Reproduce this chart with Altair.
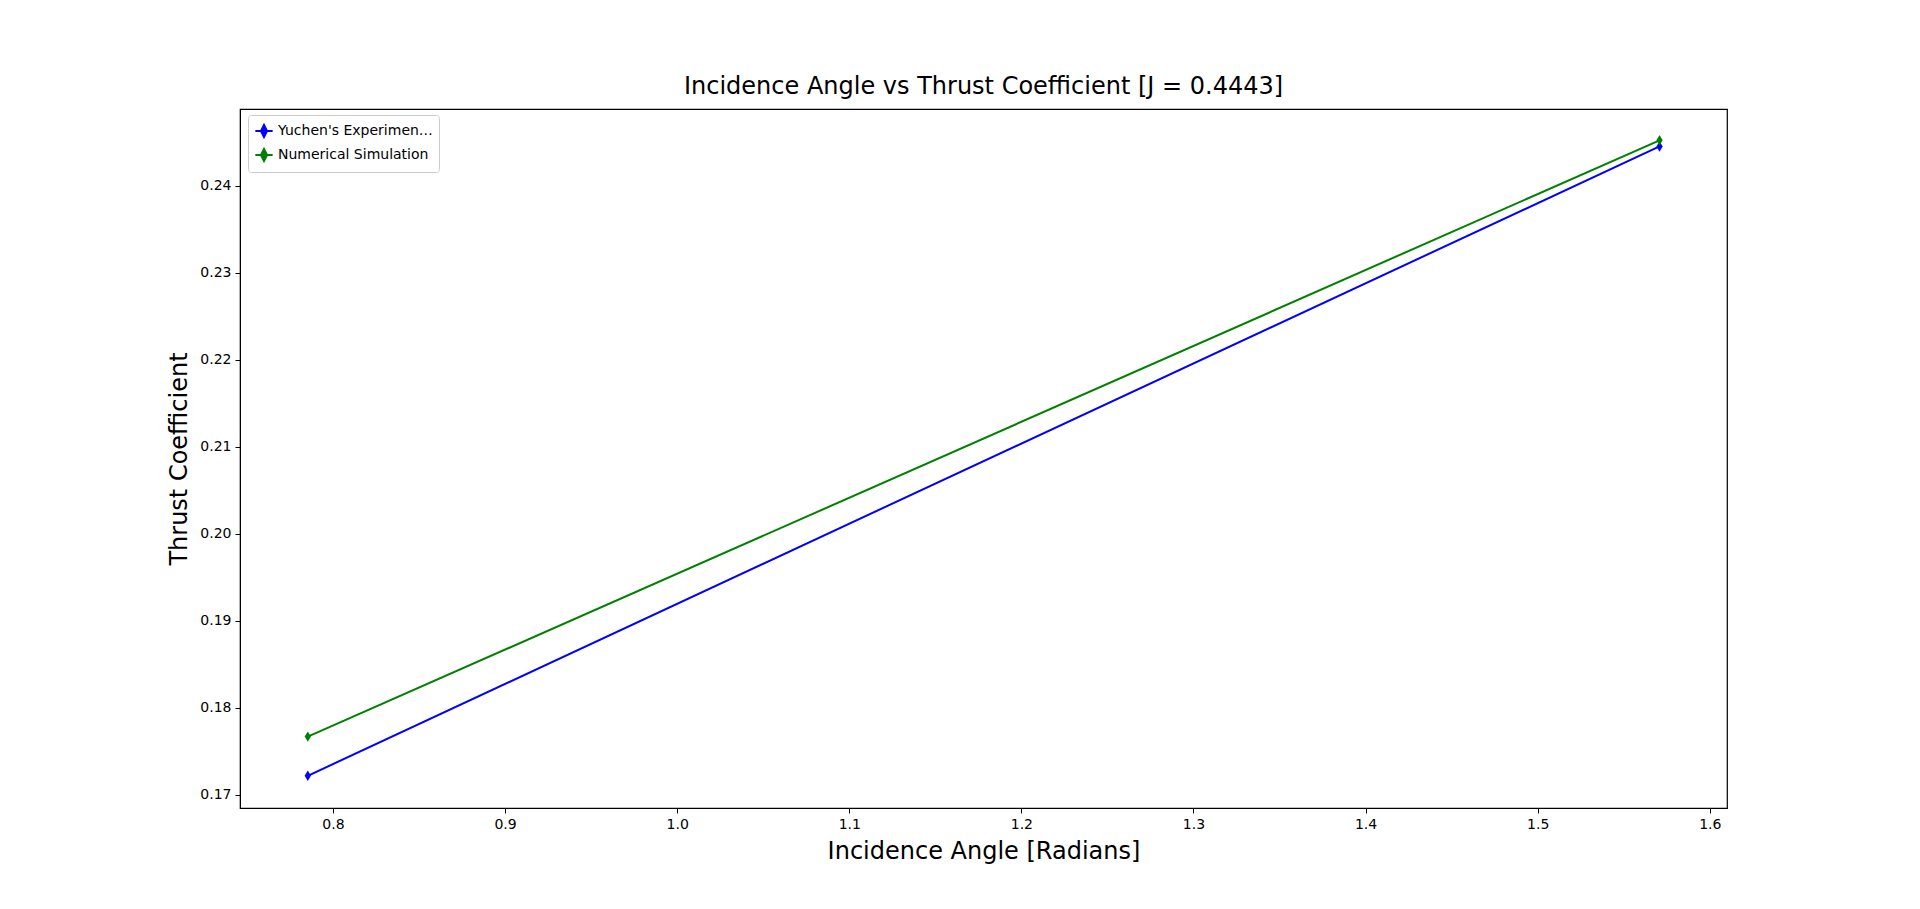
import altair as alt
import pandas as pd

x = [0.7854, 1.5708]
exp_ct = [0.1722, 0.2445]
sim_ct = [0.1767, 0.2452]
series = ["Yuchen's Experiment CT", "Numerical Simulation"]

df = pd.DataFrame({
    "x": x + x,
    "y": exp_ct + sim_ct,
    "s": [series[0]] * 2 + [series[1]] * 2,
})

color = alt.Color("s:N", scale=alt.Scale(domain=series, range=["#0000ff", "#008000"]),
                  legend=alt.Legend(title=None, orient="none", legendX=8, legendY=6,
                                    fillColor="white", strokeColor="#cccccc", padding=6,
                                    labelFontSize=14, symbolType="M-1,0L1,0M0,-0.7L0.35,0L0,0.7L-0.35,0Z",
                                    symbolStrokeWidth=2, symbolSize=300, cornerRadius=3,
                                    labelFont="DejaVu Sans"))

xs = alt.X("x:Q", scale=alt.Scale(domain=[0.746, 1.610], nice=False, zero=False),
           axis=alt.Axis(title="Incidence Angle [Radians]", values=[0.8, 0.9, 1.0, 1.1, 1.2, 1.3, 1.4, 1.5, 1.6],
                         format=".1f", grid=False))
ys = alt.Y("y:Q", scale=alt.Scale(domain=[0.1685, 0.2488], nice=False, zero=False),
           axis=alt.Axis(title="Thrust Coefficient", values=[0.17, 0.18, 0.19, 0.20, 0.21, 0.22, 0.23, 0.24],
                         format=".2f", grid=False))

base = alt.Chart(df)
lines = base.mark_line(strokeWidth=2).encode(x=xs, y=ys, color=color)
pts = base.mark_point(shape="M0,-1L0.6,0L0,1L-0.6,0Z", filled=True, size=110, opacity=1).encode(
    x="x:Q", y="y:Q", color=alt.Color("s:N", legend=None, scale=alt.Scale(domain=series, range=["#0000ff", "#008000"])))

chart = alt.layer(lines, pts).properties(
    width=1487, height=699,
    title=alt.Title("Incidence Angle vs Thrust Coefficient [J = 0.4443]", fontSize=24, fontWeight="normal",
                    font="DejaVu Sans", offset=10),
    autosize=alt.AutoSizeParams(type="none"),
    padding={"left": 232, "top": 101, "right": 10, "bottom": 90},
).configure_view(stroke="black", strokeWidth=1.2).configure_axis(
    labelFontSize=14, titleFontSize=24, titleFontWeight="normal", labelFont="DejaVu Sans",
    titleFont="DejaVu Sans", domainColor="black", tickColor="black", labelColor="black",
    titleColor="black", tickSize=5, labelPadding=4, titlePadding=8
)

chart.save("out.html", embed_options={"renderer": "svg", "actions": False})
